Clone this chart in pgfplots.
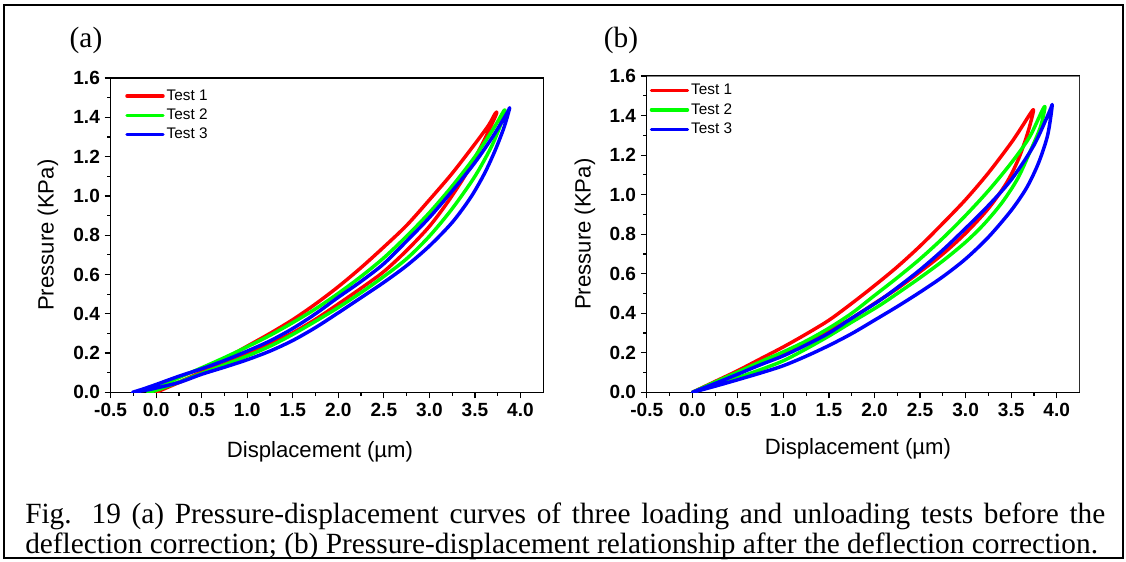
\documentclass[border=0pt]{standalone}
\usepackage{pgfplots}
\pgfplotsset{compat=1.18}
\usepackage{fontspec}
\setmainfont{Liberation Serif}
\newfontfamily\arial{Liberation Sans}
\definecolor{cR}{RGB}{255,0,0}
\definecolor{cG}{RGB}{0,255,0}
\definecolor{cB}{RGB}{0,0,255}
\pgfplotsset{
 myaxis/.style={
  scale only axis, width=324.5pt,
  xmin=-0.5, xmax=4.25, ymin=0, ymax=1.6,
  xtick={-0.5,0,0.5,1,1.5,2,2.5,3,3.5,4},
  xticklabels={-0.5,0.0,0.5,1.0,1.5,2.0,2.5,3.0,3.5,4.0},
  ytick={0,0.2,0.4,0.6,0.8,1.0,1.2,1.4,1.6},
  yticklabels={0.0,0.2,0.4,0.6,0.8,1.0,1.2,1.4,1.6},
  minor x tick num=1, minor y tick num=1,
  tick pos=left, tick align=outside,
  major tick length=4.5pt, minor tick length=2.6pt,
  every tick/.style={black, line width=0.9pt},
  axis line style={line width=0.9pt},
  tick label style={font=\arial\bfseries\fontsize{14.3}{16}\selectfont},
  xticklabel style={inner sep=1pt, yshift=-2.5pt},
  label style={font=\arial\fontsize{16.6}{19}\selectfont},
  legend style={draw=none, fill=none, font=\arial\fontsize{11.5}{13}\selectfont, anchor=north west, inner sep=0pt, row sep=2pt, nodes={inner sep=1.5pt}},
  legend cell align=left,
  legend image code/.code={\draw[#1, line width=2.6pt] (0pt,0pt) -- (27pt,0pt);},
  every axis plot/.append style={line width=2.6pt, line join=round, line cap=round, smooth, tension=0.5},
 }
}
\begin{document}
\begin{tikzpicture}
\useasboundingbox (0,0) rectangle (844.5pt,420.75pt);
\draw[line width=1.5pt] (3pt,417pt) rectangle (842.25pt,2.25pt);
\node[font=\fontsize{22}{26}\selectfont, inner sep=0pt] at (64.5pt,390.5pt) {(a)};
\node[font=\fontsize{22}{26}\selectfont, inner sep=0pt] at (465.75pt,390.5pt) {(b)};

\begin{axis}[myaxis, at={(82.95pt,126.5pt)}, anchor=south west, height=235.7pt,
  xlabel={Displacement (\textmu m)}, ylabel={Pressure (KPa)},
  xlabel style={at={(axis description cs:0.484,-0.19)}, anchor=center},
  ylabel style={at={(axis description cs:-0.1447,0.5)}, anchor=center},
  legend style={at={(rel axis cs:0,1)}, xshift=10.8pt, yshift=-7pt}]
\addplot[cR] coordinates {
(0.00,0.000) (0.25,0.050) (0.50,0.098) (0.75,0.145) (1.00,0.195) (1.25,0.247) (1.50,0.303) (1.75,0.372) (2.00,0.450) (2.25,0.530) (2.50,0.615) (2.75,0.722) (3.00,0.845) (3.20,0.968) (3.40,1.110) (3.57,1.255) (3.68,1.360) (3.74,1.423)
(3.72,1.418) (3.65,1.360) (3.50,1.265) (3.25,1.115) (3.00,0.980) (2.75,0.850) (2.50,0.740) (2.25,0.635) (2.00,0.538) (1.75,0.450) (1.50,0.370) (1.25,0.300) (1.00,0.235) (0.75,0.170) (0.50,0.105) (0.25,0.052) (0.00,0.000)};
\addlegendentry{Test 1}
\addplot[cG] coordinates {
(-0.09,0.000) (0.00,0.010) (0.25,0.052) (0.50,0.097) (0.75,0.140) (1.00,0.185) (1.25,0.235) (1.50,0.295) (1.75,0.362) (2.00,0.432) (2.25,0.508) (2.50,0.590) (2.75,0.680) (3.00,0.795) (3.25,0.935) (3.50,1.100) (3.68,1.250) (3.78,1.360) (3.83,1.437)
(3.80,1.420) (3.70,1.340) (3.50,1.200) (3.25,1.050) (3.00,0.915) (2.75,0.795) (2.50,0.685) (2.25,0.590) (2.00,0.504) (1.75,0.425) (1.50,0.355) (1.25,0.290) (1.00,0.232) (0.75,0.177) (0.50,0.125) (0.25,0.075) (0.00,0.022) (-0.09,0.000)};
\addlegendentry{Test 2}
\addplot[cB] coordinates {
(-0.26,0.000) (-0.10,0.012) (0.00,0.022) (0.25,0.050) (0.50,0.092) (0.75,0.128) (1.00,0.166) (1.25,0.210) (1.50,0.264) (1.75,0.330) (2.00,0.405) (2.25,0.482) (2.50,0.560) (2.75,0.645) (3.00,0.745) (3.25,0.865) (3.45,0.990) (3.60,1.110) (3.72,1.230) (3.82,1.350) (3.88,1.446)
(3.85,1.420) (3.70,1.305) (3.50,1.170) (3.25,1.025) (3.00,0.890) (2.75,0.770) (2.50,0.655) (2.25,0.565) (2.00,0.484) (1.75,0.400) (1.50,0.325) (1.25,0.262) (1.00,0.210) (0.75,0.162) (0.50,0.120) (0.25,0.082) (0.00,0.040) (-0.15,0.016) (-0.26,0.000)};
\addlegendentry{Test 3}
\end{axis}

\begin{axis}[myaxis, at={(485.1pt,126.5pt)}, anchor=south west, height=237.2pt,
  xlabel={Displacement (\textmu m)}, ylabel={Pressure (KPa)},
  xlabel style={at={(axis description cs:0.488,-0.178)}, anchor=center},
  ylabel style={at={(axis description cs:-0.1433,0.5)}, anchor=center},
  legend style={at={(rel axis cs:0,1)}, xshift=2pt, yshift=-4.5pt}]
\addplot[cR] coordinates {
(0,0) (0.25,0.048) (0.50,0.095) (0.75,0.145) (1.00,0.195) (1.25,0.250) (1.50,0.310) (1.75,0.375) (2.00,0.450) (2.25,0.525) (2.50,0.610) (2.75,0.700) (3.00,0.805) (3.25,0.930) (3.45,1.060) (3.58,1.180) (3.68,1.310) (3.745,1.425)
(3.71,1.410) (3.62,1.345) (3.50,1.262) (3.25,1.110) (3.00,0.975) (2.75,0.855) (2.50,0.740) (2.25,0.635) (2.00,0.540) (1.75,0.450) (1.50,0.365) (1.25,0.295) (1.00,0.230) (0.75,0.170) (0.50,0.110) (0.25,0.055) (0,0)};
\addlegendentry{Test 1}
\addplot[cG] coordinates {
(0,0) (0.25,0.037) (0.50,0.075) (0.75,0.115) (1.00,0.160) (1.25,0.220) (1.50,0.285) (1.75,0.355) (2.04,0.435) (2.25,0.500) (2.50,0.580) (2.75,0.665) (3.00,0.760) (3.20,0.850) (3.40,0.960) (3.57,1.080) (3.70,1.210) (3.82,1.340) (3.87,1.440)
(3.84,1.425) (3.70,1.290) (3.50,1.160) (3.25,1.020) (3.00,0.895) (2.75,0.780) (2.50,0.675) (2.25,0.580) (2.00,0.490) (1.75,0.400) (1.50,0.325) (1.25,0.260) (1.00,0.205) (0.75,0.155) (0.50,0.103) (0.25,0.052) (0,0)};
\addlegendentry{Test 2}
\addplot[cB] coordinates {
(0,0) (0.25,0.031) (0.50,0.064) (0.75,0.098) (1.00,0.135) (1.25,0.183) (1.50,0.237) (1.75,0.297) (2.00,0.365) (2.25,0.434) (2.50,0.507) (2.75,0.585) (3.00,0.675) (3.25,0.785) (3.50,0.920) (3.67,1.035) (3.80,1.160) (3.90,1.300) (3.95,1.450)
(3.92,1.420) (3.75,1.250) (3.50,1.075) (3.25,0.945) (3.00,0.830) (2.75,0.720) (2.50,0.620) (2.25,0.530) (2.04,0.460) (1.75,0.375) (1.50,0.300) (1.25,0.240) (1.00,0.185) (0.75,0.140) (0.50,0.092) (0.25,0.045) (0,0)};
\addlegendentry{Test 3}
\draw[gray, line width=0.9pt] (rel axis cs:0,1) -- (rel axis cs:1,1) -- (rel axis cs:1,0);
\end{axis}

\node[anchor=base west, inner sep=0pt, text width=810pt, align=justify, font=\fontsize{22}{22.9}\selectfont] at (18.75pt,28.5pt) {Fig. 19 (a) Pressure-displacement curves of three loading and unloading tests before the deflection correction; (b) Pressure-displacement relationship after the deflection correction.};
\end{tikzpicture}
\end{document}
